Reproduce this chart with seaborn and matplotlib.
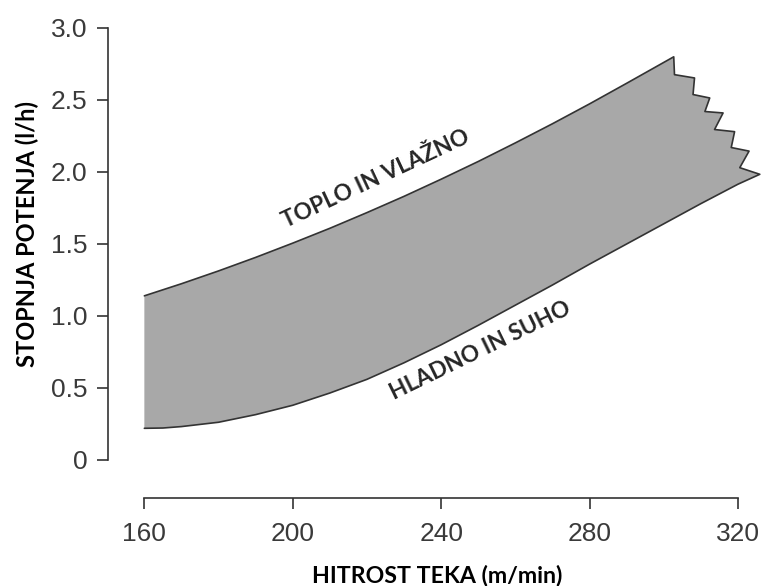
import matplotlib
matplotlib.use("Agg")
import matplotlib.pyplot as plt
import seaborn as sns
import pandas as pd

# ---- data ----
upper_x = [160, 170, 180, 190, 200, 210, 220, 230, 240, 250, 260, 270, 280, 290, 302.7]
upper_y = [1.14, 1.224, 1.313, 1.407, 1.506, 1.609, 1.718, 1.831, 1.95, 2.073, 2.202, 2.335,
           2.473, 2.616, 2.80]

edge_x = [302.7, 302.9, 308.3, 307.9, 312.4, 311.1, 316.0, 313.7, 319.1, 318.2, 323.0, 320.5, 325.9]
edge_y = [2.80, 2.676, 2.653, 2.538, 2.514, 2.42, 2.41, 2.295, 2.28, 2.17, 2.145, 2.03, 1.984]

lower_x = [160, 165, 170, 180, 190, 200, 210, 220, 230, 240, 250, 260, 270, 280, 290, 300, 310, 320, 325.9]
lower_y = [0.22, 0.222, 0.232, 0.262, 0.315, 0.38, 0.465, 0.56, 0.675, 0.80, 0.935, 1.075, 1.215,
           1.36, 1.50, 1.64, 1.78, 1.915, 1.984]

x_ticks = [160, 200, 240, 280, 320]
y_ticks = [0, 0.5, 1.0, 1.5, 2.0, 2.5, 3.0]
y_tick_labels = ["0", "0.5", "1.0", "1.5", "2.0", "2.5", "3.0"]

label_top = "TOPLO IN VLAŽNO"
label_bottom = "HLADNO IN SUHO"
x_label = "HITROST TEKA (m/min)"
y_label = "STOPNJA POTENJA (l/h)"

# ---- figure ----
sns.set_theme(style="ticks")
plt.rcParams["font.family"] = ["Liberation Sans", "DejaVu Sans"]

W, H = 768, 586
fig = plt.figure(figsize=(W / 100, H / 100), dpi=100)
ax_l, ax_r, ax_b, ax_t = 108, 767.6, 498, 13.6
ax = fig.add_axes([ax_l / W, (H - ax_b) / H, (ax_r - ax_l) / W, (ax_b - ax_t) / H])

# band polygon: upper curve -> jagged edge -> lower curve (reversed)
poly_x = upper_x + edge_x[1:] + lower_x[::-1][1:]
poly_y = upper_y + edge_y[1:] + lower_y[::-1][1:]
ax.fill(poly_x, poly_y, color="#a8a8a8", lw=0, zorder=1)

outline = pd.DataFrame({"x": poly_x, "y": poly_y})
sns.lineplot(data=outline, x="x", y="y", sort=False, estimator=None,
             color="#333333", lw=1.2, ax=ax, zorder=2)

ax.set_xlim(150.2, 328)
ax.set_ylim(-0.264, 3.1)

for s in ["top", "right"]:
    ax.spines[s].set_visible(False)
for s in ["left", "bottom"]:
    ax.spines[s].set_color("#333333")
    ax.spines[s].set_linewidth(1.2)
ax.spines["left"].set_bounds(0, 3)
ax.spines["bottom"].set_bounds(160, 320)

ax.set_xticks(x_ticks)
ax.set_xticklabels([str(v) for v in x_ticks])
ax.set_yticks(y_ticks)
ax.set_yticklabels(y_tick_labels)
ax.tick_params(axis="both", which="major", direction="out", length=8, width=1.2,
               color="#333333", labelcolor="#3a3a3a", labelsize=19,
               bottom=True, left=True)
ax.tick_params(axis="x", pad=9)
ax.tick_params(axis="y", pad=7)

bold_font = ["Lato", "DejaVu Sans"]
ax.set_xlabel(x_label, fontsize=16.7, fontweight="bold", family=bold_font, color="black")
ax.set_ylabel(y_label, fontsize=17, fontweight="bold", family=bold_font, color="black")
ax.xaxis.set_label_coords((437 - ax_l) / (ax_r - ax_l), (ax_b - 576) / (ax_b - ax_t))
ax.xaxis.label.set_va("center")
ax.yaxis.set_label_coords((27 - ax_l) / (ax_r - ax_l), (ax_b - 234) / (ax_b - ax_t))
ax.yaxis.label.set_va("center")

ax.text(222.5, 1.95, label_top, rotation=25, rotation_mode="anchor",
        ha="center", va="center", fontsize=16.3, fontweight="bold", family=bold_font)
ax.text(250.5, 0.76, label_bottom, rotation=26, rotation_mode="anchor",
        ha="center", va="center", fontsize=16.3, fontweight="bold", family=bold_font)

fig.savefig("out.png", dpi=100)
